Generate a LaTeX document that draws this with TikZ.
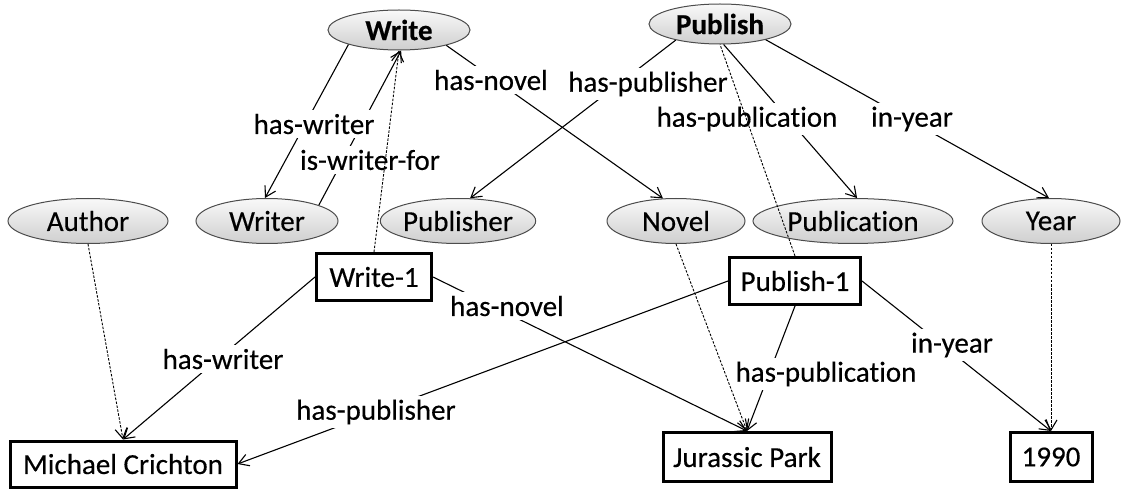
\documentclass[tikz,border=0pt]{standalone}
\usepackage{fontspec}
\setmainfont{Carlito}[Ligatures=NoCommon, FakeBold=0.35]
\usetikzlibrary{arrows.meta,shapes.geometric}

\begin{document}
\begin{tikzpicture}[x=1pt,y=-1pt,
  font=\fontsize{29}{33}\selectfont,
  concept/.style={ellipse, draw=black!70, line width=1pt, top color=gray!5, bottom color=gray!38, inner sep=0pt},
  instance/.style={rectangle, draw=black, line width=3pt, fill=white, inner sep=0pt},
  tip/.style={-{Straight Barb[length=10pt,width=12pt,line width=1.1pt]}},
  rel/.style={line width=1.1pt, tip},
  typeline/.style={line width=0.9pt, dash pattern=on 2.5pt off 1.5pt},
  typearrow/.style={typeline, tip},
  lbl/.style={fill=white, inner sep=4pt},
  heading/.style={font=\fontsize{29}{33}\selectfont\bfseries}
]
\useasboundingbox (0,0) rectangle (1141,489);

% concepts (upper row)
\node[concept, heading, minimum width=142pt, minimum height=40pt] (write) at (399,30) {Write};
\node[concept, heading, minimum width=142pt, minimum height=40pt] (publish) at (720,24) {Publish};
\node[concept, minimum width=160pt, minimum height=45pt] (author) at (88,221) {Author};
\node[concept, minimum width=142pt, minimum height=45pt] (writer) at (267,221) {Writer};
\node[concept, minimum width=150pt, minimum height=45pt] (publisher) at (458,221) {Publisher};
\node[concept, minimum width=138pt, minimum height=45pt] (novel) at (676,221) {Novel};
\node[concept, minimum width=200pt, minimum height=45pt] (publication) at (853,221) {Publication};
\node[concept, minimum width=138pt, minimum height=45pt] (year) at (1051,221) {Year};

% instances
\node[instance, minimum width=115pt, minimum height=47pt] (write1) at (374,277) {Write-1};
\node[instance, minimum width=131pt, minimum height=47pt] (publish1) at (795,281) {Publish-1};
\node[instance, minimum width=226pt, minimum height=46pt] (mc) at (123,464) {Michael Crichton};
\node[instance, minimum width=168pt, minimum height=49pt] (jp) at (747,457) {Jurassic Park};
\node[instance, minimum width=82pt, minimum height=49pt] (y1990) at (1051,457) {1990};

% relations between concepts
\draw[rel] (write.196) -- (writer.95);
\draw[rel] (writer.17) -- (write.276);
\draw[rel] (write.342) -- (novel.120);
\draw[rel] (publish.200) -- (publisher.62);
\draw[rel] (publish.280) -- (publication.80);
\draw[rel] (publish.341) -- (year.95);

% relations between instances
\draw[rel] (write1.west) -- (mc.north);
\draw[rel] (write1.east) -- (jp.north);
\draw[rel] (publish1.west) -- (mc.east);
\draw[rel] (publish1.south) -- (jp.north);
\draw[rel] (publish1.east) -- (y1990.north);

% relation labels
\node[lbl] (l1) at (314,124) {has-writer};
\node[lbl] (l2) at (370,160) {is-writer-for};
\node[lbl] (l3) at (491,80) {has-novel};
\node[lbl] (l4) at (648,84) {has-publisher};
\node[lbl] (l5) at (747,119) {has-publication};
\node[lbl] (l6) at (912,119) {in-year};
\node[lbl] (l7) at (223,359) {has-writer};
\node[lbl] (l8) at (507,306) {has-novel};
\node[lbl] (l9) at (376,412) {has-publisher};
\node[lbl] (l10) at (826,374) {has-publication};
\node[lbl] (l11) at (952,345) {in-year};

% instance-of links
\draw[typearrow] (write1.north) -- (write.south);
\draw[typeline] (publish1.north) -- (publish.south);
\draw[typearrow] (author.south) -- (mc.north);
\draw[typearrow] (novel.south) -- (jp.north);
\draw[typearrow] (year.south) -- (y1990.north);
\end{tikzpicture}
\end{document}
